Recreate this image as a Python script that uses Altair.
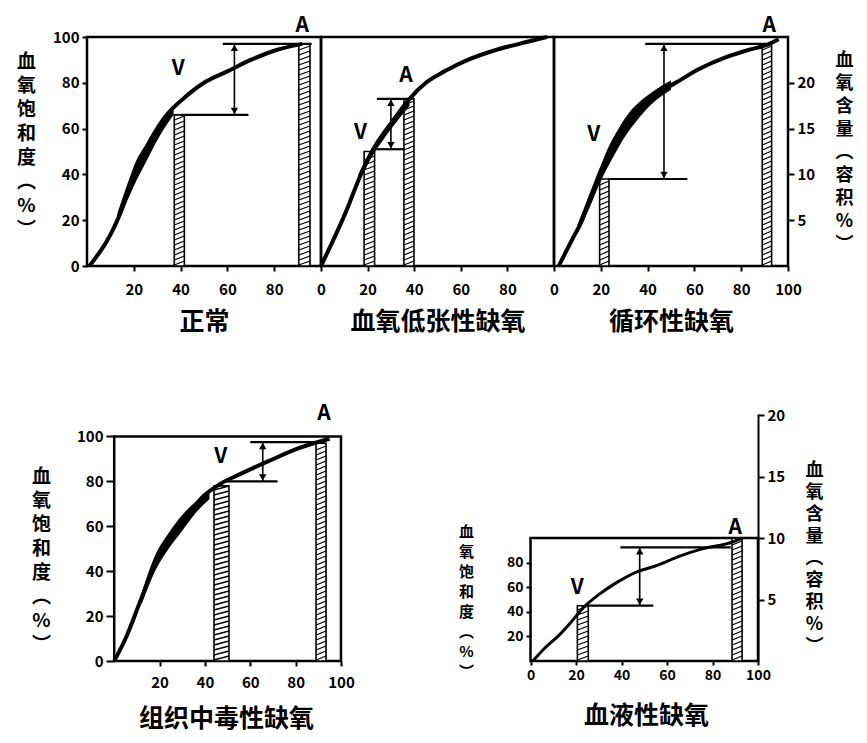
import altair as alt
import pandas as pd

FONT = "Noto Sans CJK SC"

# ---------------- data ----------------
# 1. 正常
n_cx = [1, 4, 8, 15, 20, 25, 30, 35, 40, 50, 60, 70, 80, 92]
n_cy = [0, 4, 10, 25, 40, 50, 59, 67, 72, 80, 85, 90, 94, 97]
n_bx = [13, 17, 21, 25, 29, 33, 37]
n_blo = [20, 28, 37, 45, 53, 60, 66]
n_bhi = [23, 35, 46, 53, 60, 66, 70]
n_bars = [(37.3, 41.6, 66), (90.5, 95.3, 97)]
n_hl = [(58, 96, 97), (40, 69, 66)]
n_arrow = (63, 97, 66)
n_lab = [("A", 92, 105), ("V", 39, 86)]

# 2. 血氧低张性缺氧
h_cx = [0, 10, 18, 22, 28, 38, 45, 53, 63, 74, 85, 97]
h_cy = [0, 22, 42, 50, 59, 73, 80, 85, 90, 94, 97, 100]
h_bx = [16, 22, 28, 34, 38]
h_blo = [37, 48, 57, 65, 70]
h_bhi = [40, 52, 61, 69, 74]
h_bars = [(18.5, 23, 50), (35.6, 39.9, 73)]
h_hl = [(24, 39, 73), (23, 36, 51)]
h_arrow = (30, 73, 51)
h_lab = [("A", 36.5, 83), ("V", 17, 58)]

# 3. 循环性缺氧
c_cx = [2, 8, 12, 16, 20, 23, 28, 34, 42, 52, 62, 73, 82, 92, 96]
c_cy = [0, 12, 20, 31, 40, 49, 59, 68, 74, 80, 86, 91, 94, 97, 99]
c_bx = [10, 15, 20, 25, 30, 35, 42, 50]
c_blo = [14, 25, 37, 47, 56, 63, 71, 77]
c_bhi = [18, 31, 44, 55, 63, 70, 76, 81]
c_bars = [(19.5, 23.5, 38), (89, 93, 97)]
c_hl = [(39, 93, 97), (23, 57, 38)]
c_arrow = (47, 97, 38)
c_lab = [("A", 92, 105), ("V", 17, 57)]

# 4. 组织中毒性缺氧
t_cx = [0, 5, 12, 20, 30, 40, 47, 55, 68, 82, 95]
t_cy = [0, 10, 28, 48, 62, 74, 79, 83, 89, 95, 99]
t_bx = [12, 18, 24, 30, 36, 42]
t_blo = [25, 40, 50, 58, 66, 72]
t_bhi = [30, 47, 57, 65, 71, 76]
t_bars = [(44, 50.6, 78), (89, 93.4, 97)]
t_hl = [(60, 93, 97.5), (49, 72, 80)]
t_arrow = (65.5, 97.5, 80)
t_lab = [("A", 92.5, 110), ("V", 47, 91)]

# 5. 血液性缺氧
b_cx = [1, 6, 12, 18, 23, 30, 38, 46, 56, 65, 75, 89, 93]
b_cy = [0, 10, 20, 32, 43, 54, 64, 72, 78, 85, 91, 97, 100]
b_bars = [(20.6, 25.4, 45), (88.6, 93, 100)]
b_hl = [(39.5, 88, 92.5), (25, 54, 45)]
b_arrow = (48, 92.5, 45)
b_lab = [("A", 90, 108), ("V", 20.6, 59)]

SAT_TITLE = ["血", "氧", "饱", "和", "度", "︵", "%", "︶"]
VOL_TITLE = ["血", "氧", "含", "量", "︵", "容", "积", "%", "︶"]


def hatch_df(bars, ypx):
    rows = []
    step, rise = 5.0 / ypx, 4.0 / ypx
    for x0, x1, top in bars:
        y = 1.0 / ypx
        while y + rise <= top:
            rows.append({"x": x0, "x2": x1, "y": y, "y2": y + rise})
            y += step
    return pd.DataFrame(rows)


def xaxis(vals, title, tpad, fs=15, title_x=None, tick=5, lpad=11):
    kw = dict(values=vals, domain=False, grid=False, tickSize=tick, tickWidth=2,
              tickColor="black", labelFont=FONT, labelFontSize=fs,
              labelFontWeight="bold", labelColor="black", labelPadding=lpad,
              labelFlush=False, labelOverlap=False, title=title, titleFont=FONT,
              titleFontSize=25, titleFontWeight="bold", titleColor="black",
              titlePadding=tpad)
    if title_x is not None:
        kw["titleX"] = title_x
    return alt.Axis(**kw)


def yaxis(vals, lines, tx, ty, tfs, lh, fs=15, tick=5, offset=0, orient="left",
          domain=False):
    return alt.Axis(values=vals, orient=orient, domain=domain, domainColor="black",
                    domainWidth=2, grid=False, tickSize=tick, tickWidth=2,
                    tickColor="black", labelFont=FONT, labelFontSize=fs,
                    labelFontWeight="bold", labelColor="black", labelPadding=3,
                    labelOverlap=False, offset=offset, title=lines, titleAngle=0,
                    titleFont=FONT, titleFontSize=tfs, titleFontWeight="bold",
                    titleColor="black", titleLineHeight=lh, titleX=tx, titleY=ty,
                    titleAlign="center", titleBaseline="top")


def panel(cx, cy, band, bars, hl, arrow, labels, X, Y, ypx, lw=4):
    L = []
    frame = pd.DataFrame({"x": [0], "x2": [100], "y": [0], "y2": [100]})
    L.append(alt.Chart(frame).mark_rect(fillOpacity=0, stroke="black", strokeWidth=2.5)
             .encode(x=X, x2="x2", y=Y, y2="y2"))
    bdf = pd.DataFrame(bars, columns=["x", "x2", "y2"])
    bdf["y"] = 0
    L.append(alt.Chart(bdf).mark_rect(fill="white", stroke="black", strokeWidth=1.6)
             .encode(x=X, x2="x2", y=Y, y2="y2"))
    L.append(alt.Chart(hatch_df(bars, ypx)).mark_rule(color="black", strokeWidth=1.3)
             .encode(x=X, x2="x2", y=Y, y2="y2"))
    if band is not None:
        bx, blo, bhi = band
        L.append(alt.Chart(pd.DataFrame({"x": bx, "y": blo, "y2": bhi}))
                 .mark_area(color="black", interpolate="monotone")
                 .encode(x=X, y=Y, y2="y2"))
    L.append(alt.Chart(pd.DataFrame({"x": cx, "y": cy}))
             .mark_line(color="black", strokeWidth=lw, interpolate="monotone")
             .encode(x=X, y=Y))
    hdf = pd.DataFrame(hl, columns=["x", "x2", "y"])
    L.append(alt.Chart(hdf).mark_rule(color="black", strokeWidth=2.2)
             .encode(x=X, x2="x2", y=Y))
    ax, ay0, ay1 = arrow
    L.append(alt.Chart(pd.DataFrame({"x": [ax], "y": [ay0], "y2": [ay1]}))
             .mark_rule(color="black", strokeWidth=1.6).encode(x=X, y=Y, y2="y2"))
    off = 4.0 / ypx
    heads = pd.DataFrame({"x": [ax, ax], "y": [ay0 - off, ay1 + off],
                          "s": ["triangle-up", "triangle-down"]})
    L.append(alt.Chart(heads).mark_point(filled=True, color="black", size=55, opacity=1)
             .encode(x=X, y=Y, shape=alt.Shape("s:N", scale=None)))
    ldf = pd.DataFrame(labels, columns=["t", "x", "y"])
    L.append(alt.Chart(ldf).mark_text(font=FONT, fontSize=21, fontWeight="bold",
                                      color="black")
             .encode(x=X, y=Y, text="t:N"))
    return alt.layer(*L)


def right_axis(vmax, ax):
    return (alt.Chart(pd.DataFrame({"v": [0, vmax]})).mark_point(opacity=0)
            .encode(y=alt.Y("v:Q", scale=alt.Scale(domain=[0, vmax], nice=False), axis=ax)))


TOP_W1, TOP_W2, TOP_W3, TOP_H = 234, 233, 234, 229
top_ypx = TOP_H / 100
ysc_top = alt.Scale(domain=[0, 100], nice=False, zero=False)
xsc = alt.Scale(domain=[0, 100], nice=False, zero=False)

# Panel 1
X1 = alt.X("x:Q", scale=xsc, axis=xaxis([20, 40, 60, 80], "正常", 12))
Y1 = alt.Y("y:Q", scale=ysc_top,
           axis=yaxis([0, 20, 40, 60, 80, 100], SAT_TITLE, -61, 15, 19, 24))
p1 = panel(n_cx, n_cy, (n_bx, n_blo, n_bhi), n_bars, n_hl, n_arrow, n_lab, X1, Y1,
           top_ypx).properties(width=TOP_W1, height=TOP_H)

# Panel 2
X2 = alt.X("x:Q", scale=xsc, axis=xaxis([0, 20, 40, 60, 80], "血氧低张性缺氧", 12))
Y2 = alt.Y("y:Q", scale=ysc_top, axis=None)
p2 = panel(h_cx, h_cy, (h_bx, h_blo, h_bhi), h_bars, h_hl, h_arrow, h_lab, X2, Y2,
           top_ypx).properties(width=TOP_W2, height=TOP_H)

# Panel 3
X3 = alt.X("x:Q", scale=xsc, axis=xaxis([0, 20, 40, 60, 80, 100], "循环性缺氧", 12))
Y3 = alt.Y("y:Q", scale=ysc_top, axis=None)
p3_main = panel(c_cx, c_cy, (c_bx, c_blo, c_bhi), c_bars, c_hl, c_arrow, c_lab, X3, Y3,
                top_ypx)
p3 = (alt.layer(p3_main,
                right_axis(25, yaxis([5, 10, 15, 20], VOL_TITLE, 56, 14, 18, 23,
                                     orient="right", tick=6)))
      .resolve_scale(y="independent").properties(width=TOP_W3, height=TOP_H))

# Panel 4
B_H = 247
P4_W = 254
X4 = alt.X("x:Q", scale=alt.Scale(domain=[-12, 100], nice=False, zero=False),
           axis=xaxis([20, 40, 60, 80, 100], "组织中毒性缺氧", 16, title_x=139, lpad=9))
Y4 = alt.Y("y:Q", scale=alt.Scale(domain=[0, 110], nice=False, zero=False),
           axis=yaxis([0, 20, 40, 60, 80, 100], SAT_TITLE, -73, 53, 19, 24,
                      tick=8, offset=-27))
p4 = panel(t_cx, t_cy, (t_bx, t_blo, t_bhi), t_bars, t_hl, t_arrow, t_lab, X4, Y4,
           B_H / 110).properties(width=P4_W, height=B_H)

# Panel 5
P5_W = 417
sat5 = 201
X5 = alt.X("x:Q", scale=alt.Scale(domain=[-83.3, 100], nice=False, zero=False),
           axis=xaxis([0, 20, 40, 60, 80, 100], "血液性缺氧", 21, fs=14,
                      title_x=305, tick=4, lpad=3))
Y5 = alt.Y("y:Q", scale=alt.Scale(domain=[0, sat5], nice=False, zero=False),
           axis=yaxis([20, 40, 60, 80], SAT_TITLE, -65, 110, 15, 20, fs=14,
                      tick=5, offset=-190))
p5_main = panel(b_cx, b_cy, None, b_bars, b_hl, b_arrow, b_lab, X5, Y5, B_H / sat5, lw=3)
p5 = (alt.layer(p5_main,
                right_axis(sat5 / 10, yaxis([5, 10, 15, 20], VOL_TITLE, 56, 47, 18, 22,
                                            orient="right", tick=6, domain=True)))
      .resolve_scale(y="independent").properties(width=P5_W, height=B_H))

row1 = alt.hconcat(p1, p2, p3, spacing=0, bounds="flush")
row2 = alt.hconcat(p4, p5, spacing=0, bounds="flush")

# nested rows count as zero-height under flush bounds, so the gap includes row 1's height
chart = (alt.vconcat(row1, row2, spacing=TOP_H + 148, bounds="flush")
         .properties(padding={"left": 7, "top": 6, "right": 5, "bottom": 5},
                     background="white")
         .configure_view(stroke="transparent"))

chart.save("out.html", embed_options={"renderer": "svg", "actions": False})
